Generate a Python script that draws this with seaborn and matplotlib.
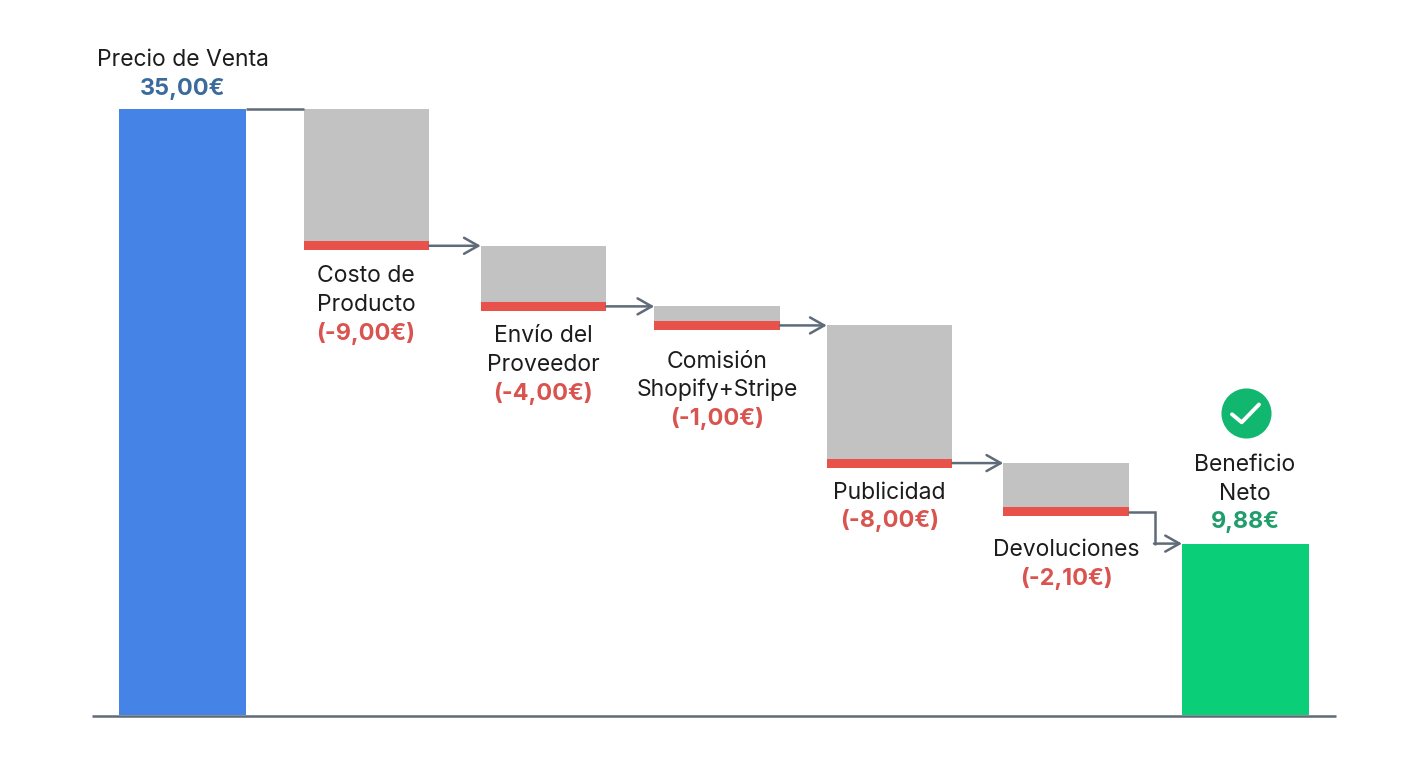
import seaborn as sns
import matplotlib.pyplot as plt

# data
categories = ["Precio de Venta", "Costo de Producto", "Envío del Proveedor", "Comisión Shopify+Stripe",
              "Publicidad", "Devoluciones", "Beneficio Neto"]
total_values = [35.00, 9.90]
# drawn levels of the steps (the picture is not to scale with its labels)
step_tops = [35.00, 27.10, 23.60, 22.50, 14.55]
step_ends = [27.10, 23.60, 22.50, 14.55, 11.75]
value_labels = ["35,00€", "(-9,00€)", "(-4,00€)", "(-1,00€)", "(-8,00€)", "(-2,10€)", "9,88€"]
label_lines = [["Precio de Venta"], ["Costo de", "Producto"], ["Envío del", "Proveedor"],
               ["Comisión", "Shopify+Stripe"], ["Publicidad"], ["Devoluciones"], ["Beneficio", "Neto"]]

# layout, in pixels on the x axis
total_x = [182.5, 1245.5]
step_x = [366.5, 543.5, 717, 889.5, 1066]
total_w = 127
step_w = 125.5
label_base = [[66, 95], [282, 311, 340], [342, 371, 400], [368, 396, 425], [499, 527], [556, 585], [471, 500, 528]]
label_x = [182.5, 366, 543, 717, 889.5, 1066, 1245]
value_colors = ["#3a6b9c", "#d9534f", "#d9534f", "#d9534f", "#d9534f", "#d9534f", "#1f9d6b"]

BLUE = "#4583e6"
GREEN = "#0bce78"
GREY = "#c2c2c2"
RED = "#e8524a"
LINE = "#5f6b78"
INK = "#1c1c1c"
px_per_unit = 606 / 35
strip = 9 / px_per_unit
ARROW = "->,head_length=0.85,head_width=0.48"


def py(y):
    # pixel row to data value
    return (715 - y) / px_per_unit


sns.set_theme(style="white")
plt.rcParams["font.family"] = ["Inter", "DejaVu Sans"]

fig, ax = plt.subplots(figsize=(14.08, 7.68), dpi=100)
fig.subplots_adjust(0, 0, 1, 1)

# total bars
sns.barplot(x=total_x, y=total_values, hue=[categories[0], categories[-1]], palette=[BLUE, GREEN], saturation=1,
            native_scale=True, width=total_w / (total_x[1] - total_x[0]), legend=False, errorbar=None, ax=ax)

# grey floating bars and the red strip at their lower edge
grey_heights = [t - (e + strip / 2) for t, e in zip(step_tops, step_ends)]
grey_bottoms = [e + strip / 2 for e in step_ends]
red_bottoms = [e - strip / 2 for e in step_ends]
min_gap = min(b - a for a, b in zip(step_x, step_x[1:]))
sns.barplot(x=step_x, y=grey_heights, bottom=grey_bottoms, color=GREY, saturation=1, native_scale=True,
            width=step_w / min_gap, errorbar=None, ax=ax)
sns.barplot(x=step_x, y=[strip] * len(step_x), bottom=red_bottoms, color=RED, saturation=1, native_scale=True,
            width=step_w / min_gap, errorbar=None, ax=ax)
for bar in ax.patches:
    bar.set_linewidth(0)

# first connector, plain line
ax.plot([246, 304], [step_tops[0], step_tops[0]], color=LINE, lw=1.8, solid_capstyle="butt")

# straight arrows between steps
next_left = [x - step_w / 2 for x in step_x[1:]]
for i in range(4):
    start = step_x[i] + step_w / 2
    ax.annotate("", xy=(next_left[i], step_ends[i]), xytext=(start, step_ends[i]),
                arrowprops=dict(arrowstyle=ARROW, color=LINE, lw=1.8, shrinkA=0, shrinkB=0))

# elbow into the net bar
elbow_x = 1155
ax.plot([step_x[4] + step_w / 2, elbow_x, elbow_x], [step_ends[4], step_ends[4], total_values[1]],
        color=LINE, lw=1.8, solid_joinstyle="miter")
ax.annotate("", xy=(total_x[1] - total_w / 2, total_values[1]), xytext=(elbow_x - 1, total_values[1]),
            arrowprops=dict(arrowstyle=ARROW, color=LINE, lw=1.8, shrinkA=0, shrinkB=0))

# baseline
ax.plot([92, 1336], [-0.03, -0.03], color=LINE, lw=1.8, solid_capstyle="butt", zorder=5)

# labels
for i, lines in enumerate(label_lines):
    for line, base in zip(lines, label_base[i]):
        ax.text(label_x[i], py(base), line, ha="center", va="baseline", fontsize=16.5, color=INK)
    ax.text(label_x[i], py(label_base[i][-1]), value_labels[i], ha="center", va="baseline",
            fontsize=16.8, fontweight="bold", color=value_colors[i])

# check badge
sns.scatterplot(x=[1245.5], y=[py(412.7)], s=1300, color="#12b76f", linewidth=0, ax=ax, legend=False, zorder=6)
ax.plot([1232, 1241.7, 1259], [py(414.3), py(422.3), py(404.5)], color="white", lw=2.8,
        solid_capstyle="round", solid_joinstyle="round", zorder=7)

ax.set_xlim(0, 1408)
ax.set_ylim(py(768), py(0))
ax.axis("off")

fig.savefig("out.png", dpi=100, facecolor="white")
